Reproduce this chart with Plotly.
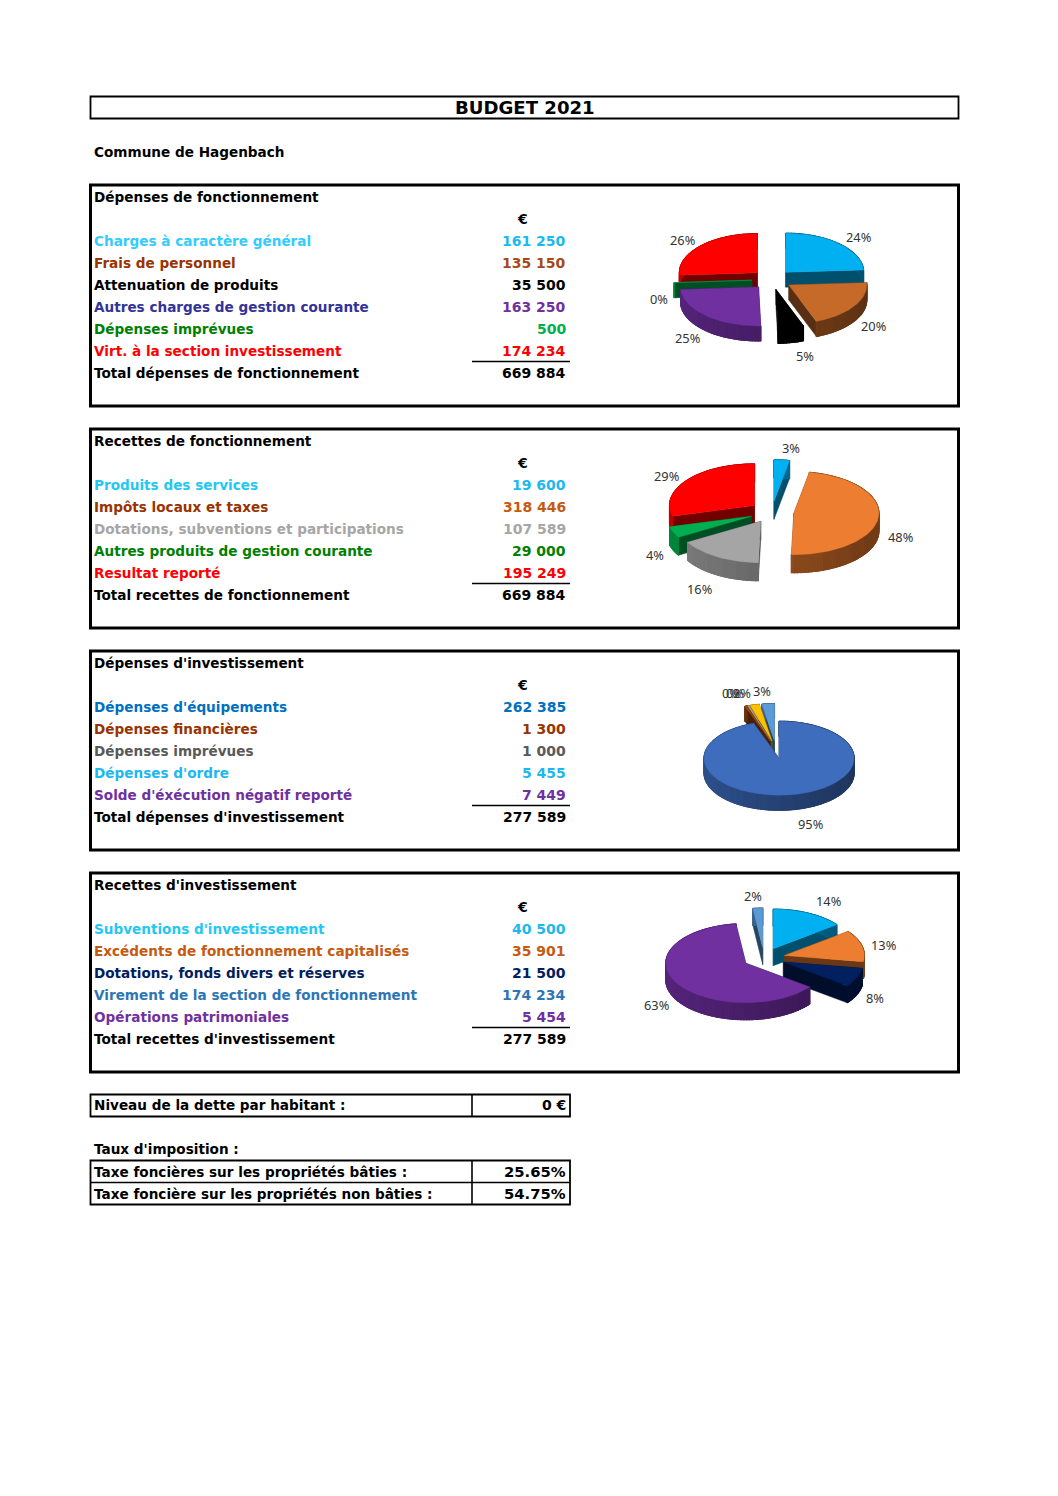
import math
import plotly.graph_objects as go

PAGE_W, PAGE_H = 1058, 1496

# ---- data ----
titles = ["Dépenses de fonctionnement", "Recettes de fonctionnement",
          "Dépenses d'investissement", "Recettes d'investissement"]

cats_1 = ["Charges à caractère général", "Frais de personnel", "Attenuation de produits",
          "Autres charges de gestion courante", "Dépenses imprévues", "Virt. à la section investissement"]
vals_1 = [161250, 135150, 35500, 163250, 500, 174234]
shown_1 = ["161 250", "135 150", "35 500", "163 250", "500", "174 234"]
pct_1 = ["24%", "20%", "5%", "25%", "0%", "26%"]
total_label_1, total_1 = "Total dépenses de fonctionnement", "669 884"

cats_2 = ["Produits des services", "Impôts locaux et taxes", "Dotations, subventions et participations",
          "Autres produits de gestion courante", "Resultat reporté"]
vals_2 = [19600, 318446, 107589, 29000, 195249]
shown_2 = ["19 600", "318 446", "107 589", "29 000", "195 249"]
pct_2 = ["3%", "48%", "16%", "4%", "29%"]
total_label_2, total_2 = "Total recettes de fonctionnement", "669 884"

cats_3 = ["Dépenses d'équipements", "Dépenses financières", "Dépenses imprévues",
          "Dépenses d'ordre", "Solde d'éxécution négatif reporté"]
vals_3 = [262385, 1300, 1000, 5455, 7449]
shown_3 = ["262 385", "1 300", "1 000", "5 455", "7 449"]
pct_3 = ["95%", "0%", "0%", "2%", "3%"]
total_label_3, total_3 = "Total dépenses d'investissement", "277 589"

cats_4 = ["Subventions d'investissement", "Excédents de fonctionnement capitalisés",
          "Dotations, fonds divers et réserves", "Virement de la section de fonctionnement",
          "Opérations patrimoniales"]
vals_4 = [40500, 35901, 21500, 174234, 5454]
shown_4 = ["40 500", "35 901", "21 500", "174 234", "5 454"]
pct_4 = ["14%", "13%", "8%", "63%", "2%"]
total_label_4, total_4 = "Total recettes d'investissement", "277 589"

# ---- styles ----
label_cols_1 = ["#33CCFF", "#993300", "#000000", "#333399", "#008000", "#FF0000"]
value_cols_1 = ["#1CB8F0", "#A8481A", "#000000", "#7030A0", "#00B050", "#FF0000"]
slice_cols_1 = ["#00B0F0", "#C56A29", "#000000", "#7030A0", "#00B050", "#FF0000"]

label_cols_2 = ["#1FC8F5", "#993300", "#A6A6A6", "#008000", "#FF0000"]
value_cols_2 = ["#1CB8F0", "#C55A11", "#A6A6A6", "#008000", "#FF0000"]
slice_cols_2 = ["#00B0F0", "#ED7D31", "#A5A5A5", "#00B050", "#FF0000"]

label_cols_3 = ["#0070C0", "#993300", "#595959", "#1CB8F0", "#7030A0"]
value_cols_3 = ["#0070C0", "#993300", "#595959", "#1CB8F0", "#7030A0"]
slice_cols_3 = ["#3F6DBE", "#9E480E", "#A5A5A5", "#FFC000", "#5B9BD5"]

label_cols_4 = ["#1FC8F5", "#C55A11", "#002060", "#2E75B6", "#7030A0"]
value_cols_4 = ["#1CB8F0", "#C55A11", "#002060", "#2E75B6", "#7030A0"]
slice_cols_4 = ["#00B0F0", "#ED7D31", "#002060", "#7030A0", "#5B9BD5"]

TEXT_FONT = "DejaVu Sans"
TEXT_SIZE = 13.6
NUM_SIZE = 14
PCT_FONT = "Noto Sans"
PCT_SIZE = 12.8
PCT_COL = "#333333"


def px(x):
    return x / PAGE_W


def py(y):
    return 1 - y / PAGE_H


annotations, shapes = [], []


def text(x, y, s, color="#000000", anchor="left", size=TEXT_SIZE, bold=True, font=TEXT_FONT):
    annotations.append(dict(
        x=px(x), y=py(y), xref="paper", yref="paper", xanchor=anchor, yanchor="middle",
        text=f"<b>{s}</b>" if bold else s, showarrow=False, borderpad=0, borderwidth=0,
        font=dict(family=font, size=size, color=color)))


def rect(x0, y0, x1, y1, w):
    shapes.append(dict(type="rect", xref="paper", yref="paper", x0=px(x0), x1=px(x1),
                       y0=py(y0), y1=py(y1), line=dict(color="#000000", width=w),
                       fillcolor="rgba(0,0,0,0)", layer="below"))


def hline(x0, x1, y, w=1.6):
    shapes.append(dict(type="line", xref="paper", yref="paper", x0=px(x0), x1=px(x1),
                       y0=py(y), y1=py(y), line=dict(color="#000000", width=w), layer="below"))


def vline(x, y0, y1, w=1.6):
    shapes.append(dict(type="line", xref="paper", yref="paper", x0=px(x), x1=px(x),
                       y0=py(y0), y1=py(y1), line=dict(color="#000000", width=w), layer="below"))


# ---- page furniture ----
rect(90.5, 96.5, 958.5, 118.5, 1.8)
text(525, 107.5, "BUDGET 2021", anchor="center", size=18.1)
text(94, 152, "Commune de Hagenbach")

blocks = [
    (185, 406, cats_1, shown_1, label_cols_1, value_cols_1, total_label_1, total_1),
    (429, 628, cats_2, shown_2, label_cols_2, value_cols_2, total_label_2, total_2),
    (651, 850, cats_3, shown_3, label_cols_3, value_cols_3, total_label_3, total_3),
    (873, 1072, cats_4, shown_4, label_cols_4, value_cols_4, total_label_4, total_4),
]
ROW = 22
for title, (top, bot, cats, shown, lc, vc, tl, tv) in zip(titles, blocks):
    rect(90.5, top, 958.5, bot, 3)
    y = top + 12
    text(94, y, title)
    y += ROW
    text(522, y, "€", anchor="center", size=NUM_SIZE)
    for c, v, a, b in zip(cats, shown, lc, vc):
        y += ROW
        text(94, y, c, a)
        text(566, y, v, b, anchor="right", size=NUM_SIZE)
    hline(472, 570, y + 10.5)
    y += ROW
    text(94, y, tl)
    text(566, y, tv, anchor="right", size=NUM_SIZE)

rect(90.5, 1094.5, 570, 1116.5, 1.8)
vline(472, 1094.5, 1116.5)
text(94, 1105, "Niveau de la dette par habitant :")
text(566, 1105, "0 €", anchor="right", size=NUM_SIZE)
text(94, 1149, "Taux d'imposition :")
rect(90.5, 1160.5, 570, 1204.5, 1.8)
hline(90.5, 570, 1182.5)
vline(472, 1160.5, 1204.5)
text(94, 1172, "Taxe foncières sur les propriétés bâties :")
text(566, 1171, "25.65%", anchor="right", size=14.8)
text(94, 1194, "Taxe foncière sur les propriétés non bâties :")
text(566, 1193, "54.75%", anchor="right", size=14.8)

# ---- 3D-looking exploded pies, computed from the values ----
pies = [
    dict(vals=vals_1, cats=cats_1, cols=slice_cols_1, pct=pct_1, cx=772, cy=279.5, rx=78, ry=39, dep=15, ex=[20] * 6,
         lab=[(858, 237), (873, 326), (805, 356), (687, 338), (659, 299), (682, 240)]),
    dict(vals=vals_2, cats=cats_2, cols=slice_cols_2, pct=pct_2, cx=772, cy=512, rx=85, ry=41.5, dep=18, ex=[22] * 5,
         lab=[(791, 448), (900, 537), (699, 589), (655, 555), (666, 476)]),
    dict(vals=vals_3, cats=cats_3, cols=slice_cols_3, pct=pct_3, cx=776, cy=749.5, rx=75, ry=37, dep=15, ex=[18] * 5,
         lab=[(810, 824), (731, 693), (735, 693), (742, 693), (762, 691)]),
    dict(vals=vals_4, cats=cats_4, cols=slice_cols_4, pct=pct_4, cx=764, cy=958, rx=80, ry=39.5, dep=17, ex=[21] * 5,
         lab=[(828, 901), (883, 945), (875, 998), (656, 1005), (753, 896)]),
]


def shade(hex_col, f):
    r, g, b = (int(hex_col[i:i + 2], 16) for i in (1, 3, 5))
    return f"rgb({int(r * f)},{int(g * f)},{int(b * f)})"


HALF_W, HALF_H = 145, 100
STEP_DEG = 2.0
N_BANDS = 16
fig = go.Figure()
layout_axes = {}

for n, p in enumerate(pies, start=1):
    xname = "x" if n == 1 else f"x{n}"
    yname = "y" if n == 1 else f"y{n}"
    layout_axes["xaxis" if n == 1 else f"xaxis{n}"] = dict(
        domain=[px(p["cx"] - HALF_W), px(p["cx"] + HALF_W)], range=[-HALF_W, HALF_W],
        visible=False, fixedrange=True, anchor=yname)
    layout_axes["yaxis" if n == 1 else f"yaxis{n}"] = dict(
        domain=[py(p["cy"] + HALF_H), py(p["cy"] - HALF_H)], range=[-HALF_H, HALF_H],
        visible=False, fixedrange=True, anchor=xname)

    total = sum(p["vals"])
    k = p["ry"] / p["rx"]
    slices, cum = [], 0.0
    for v, c, e, name in zip(p["vals"], p["cols"], p["ex"], p["cats"]):
        a0 = cum / total * 2 * math.pi
        cum += v
        a1 = cum / total * 2 * math.pi
        mid = (a0 + a1) / 2
        ox, oy = e * math.sin(mid), e * k * math.cos(mid)
        slices.append(dict(a0=a0, a1=a1, ox=ox, oy=oy, col=c, name=name))
    slices.sort(key=lambda s: -s["oy"])  # back to front

    for s in slices:
        steps = max(2, int(math.degrees(s["a1"] - s["a0"]) / STEP_DEG))
        rim = [(s["ox"] + p["rx"] * math.sin(s["a0"] + (s["a1"] - s["a0"]) * i / steps),
                s["oy"] + p["ry"] * math.cos(s["a0"] + (s["a1"] - s["a0"]) * i / steps))
               for i in range(steps + 1)]
        apex = (s["ox"], s["oy"])
        d = p["dep"]

        # straight cut faces
        fx, fy = [], []
        for q in (rim[0], rim[-1]):
            fx += [apex[0], q[0], q[0], apex[0], apex[0], None]
            fy += [apex[1], q[1], q[1] - d, apex[1] - d, apex[1], None]
        cut = shade(s["col"], 0.45)
        fig.add_trace(go.Scatter(x=fx, y=fy, xaxis=xname, yaxis=yname, mode="lines", fill="toself",
                                 fillcolor=cut, line=dict(color=cut, width=0.5),
                                 hoverinfo="skip", showlegend=False))

        # outer wall: a first solid backing in the mid shade, then bands shaded left to right
        backing = shade(s["col"], 0.62)
        fig.add_trace(go.Scatter(
            x=[q[0] for q in rim] + [q[0] for q in reversed(rim)] + [rim[0][0]],
            y=[q[1] for q in rim] + [q[1] - d for q in reversed(rim)] + [rim[0][1]],
            xaxis=xname, yaxis=yname, mode="lines", fill="toself", fillcolor=backing,
            line=dict(color=backing, width=1, simplify=False), hoverinfo="skip", showlegend=False))
        bands = {}
        for a, b in zip(rim[:-1], rim[1:]):
            t = ((a[0] + b[0]) / 2 + p["rx"] + 30) / (2 * p["rx"] + 60)
            bands.setdefault(round(t * N_BANDS), []).append((a, b))
        for key in sorted(bands):
            wx, wy = [], []
            for a, b in bands[key]:
                wx += [a[0], b[0], b[0], a[0], a[0], None]
                wy += [a[1], b[1], b[1] - d, a[1] - d, a[1], None]
            col = shade(s["col"], 0.78 - 0.32 * key / N_BANDS)
            fig.add_trace(go.Scatter(x=wx, y=wy, xaxis=xname, yaxis=yname, mode="lines", fill="toself",
                                     fillcolor=col, line=dict(color=col, width=1.2, simplify=False),
                                     hoverinfo="skip", showlegend=False))

        # top face
        tx = [apex[0]] + [q[0] for q in rim] + [apex[0]]
        ty = [apex[1]] + [q[1] for q in rim] + [apex[1]]
        fig.add_trace(go.Scatter(x=tx, y=ty, xaxis=xname, yaxis=yname, mode="lines", fill="toself",
                                 fillcolor=s["col"], line=dict(color=s["col"], width=0.4),
                                 name=s["name"], hoverinfo="name", showlegend=False))

    for lbl, (lx, ly) in zip(p["pct"], p["lab"]):
        text(lx, ly, lbl, PCT_COL, anchor="center", size=PCT_SIZE, bold=False, font=PCT_FONT)

fig.update_layout(
    width=PAGE_W, height=PAGE_H, margin=dict(l=0, r=0, t=0, b=0, pad=0),
    paper_bgcolor="#FFFFFF", plot_bgcolor="rgba(0,0,0,0)", showlegend=False,
    annotations=annotations, shapes=shapes, **layout_axes)

fig.write_html("out.html", config=dict(displayModeBar=False),
               post_script="document.body.style.margin='0';document.body.style.overflow='hidden';")
